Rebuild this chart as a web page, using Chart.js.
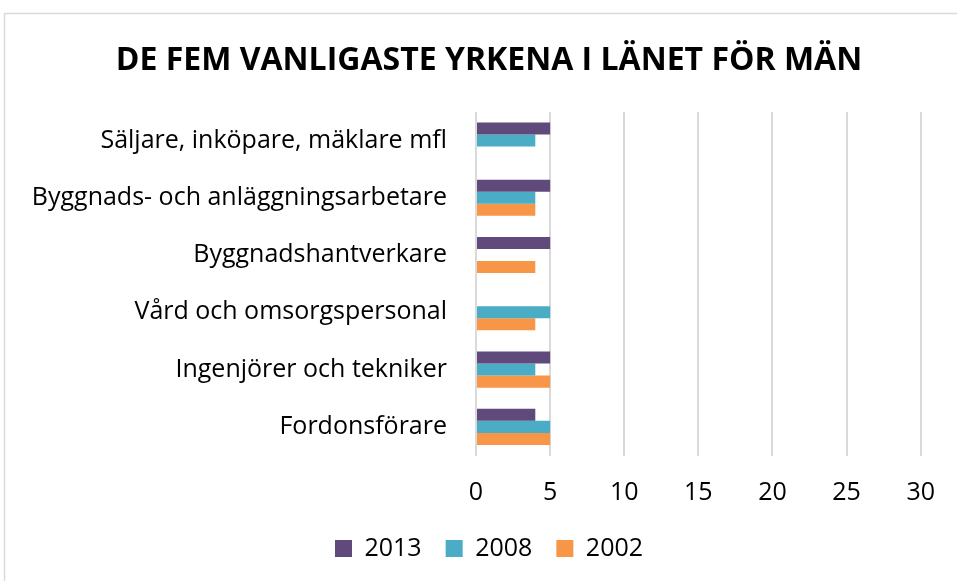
<!DOCTYPE html>
<html>
<head>
<meta charset="utf-8">
<script src="https://cdn.jsdelivr.net/npm/chart.js@4"></script>
<style>
  html, body { margin: 0; padding: 0; background: #fff; }
  #wrap { position: relative; width: 957px; height: 581px; }
</style>
</head>
<body>
<div id="wrap"><canvas id="chart" width="957" height="581"></canvas></div>
<script>
const categories = [
  "Säljare, inköpare, mäklare mfl",
  "Byggnads- och anläggningsarbetare",
  "Byggnadshantverkare",
  "Vård och omsorgspersonal",
  "Ingenjörer och tekniker",
  "Fordonsförare"
];
const years = ["2013", "2008", "2002"];
const values2013 = [5, 5, 5, null, 5, 4];
const values2008 = [4, 4, null, 5, 4, 5];
const values2002 = [null, 4, 4, 4, 5, 5];
const xTicks = [0, 5, 10, 15, 20, 25, 30];

const colors = ["#604a7b", "#4bacc6", "#f79646"];
const font = "'Open Sans', 'Noto Sans', sans-serif";

// thin frame like the original chart box (right and bottom edges fall outside)
const frame = {
  id: "frame",
  beforeDraw(chart) {
    const ctx = chart.ctx;
    ctx.save();
    ctx.strokeStyle = "#d9d9d9";
    ctx.lineWidth = 1.5;
    ctx.beginPath();
    ctx.moveTo(4.5, chart.height);
    ctx.lineTo(4.5, 13.5);
    ctx.lineTo(chart.width, 13.5);
    ctx.stroke();
    ctx.restore();
  }
};

new Chart(document.getElementById("chart"), {
  type: "bar",
  data: {
    labels: categories,
    datasets: [
      { label: years[0], data: values2013, backgroundColor: colors[0] },
      { label: years[1], data: values2008, backgroundColor: colors[1] },
      { label: years[2], data: values2002, backgroundColor: colors[2] }
    ]
  },
  options: {
    indexAxis: "y",
    responsive: false,
    animation: false,
    layout: { padding: { left: 26, right: 5, top: 0, bottom: 10 } },
    datasets: { bar: { categoryPercentage: 0.63, barPercentage: 1 } },
    scales: {
      x: {
        min: 0,
        max: 30,
        afterBuildTicks: (scale) => { scale.ticks = xTicks.map(v => ({ value: v })); },
        afterFit: (scale) => { scale.height = 56.5; },
        grid: { color: "#d9d9d9", lineWidth: 2, drawTicks: false },
        border: { display: false },
        ticks: { color: "#000", padding: 22, font: { family: font, size: 25 } }
      },
      y: {
        grid: { display: false, drawTicks: false },
        border: { display: false },
        afterFit: (scale) => { scale.width = 450; },
        ticks: { color: "#000", padding: 29, font: { family: font, size: 25 } }
      },
      // empty right-hand axis, only keeps space at the right of the plot
      yRight: {
        type: "category",
        position: "right",
        grid: { display: false, drawTicks: false },
        border: { display: false },
        ticks: { display: false },
        afterFit: (scale) => { scale.width = 26; }
      }
    },
    plugins: {
      title: {
        display: true,
        text: "DE FEM VANLIGASTE YRKENA I LÄNET FÖR MÄN",
        color: "#000",
        font: { family: font, size: 32, weight: "bold" },
        padding: { top: 42, bottom: 31.5 }
      },
      legend: {
        position: "bottom",
        labels: {
          color: "#000",
          boxWidth: 17,
          boxHeight: 17,
          padding: 24,
          font: { family: font, size: 25 }
        }
      },
      tooltip: { enabled: false }
    }
  },
  plugins: [frame]
});
</script>
</body>
</html>
